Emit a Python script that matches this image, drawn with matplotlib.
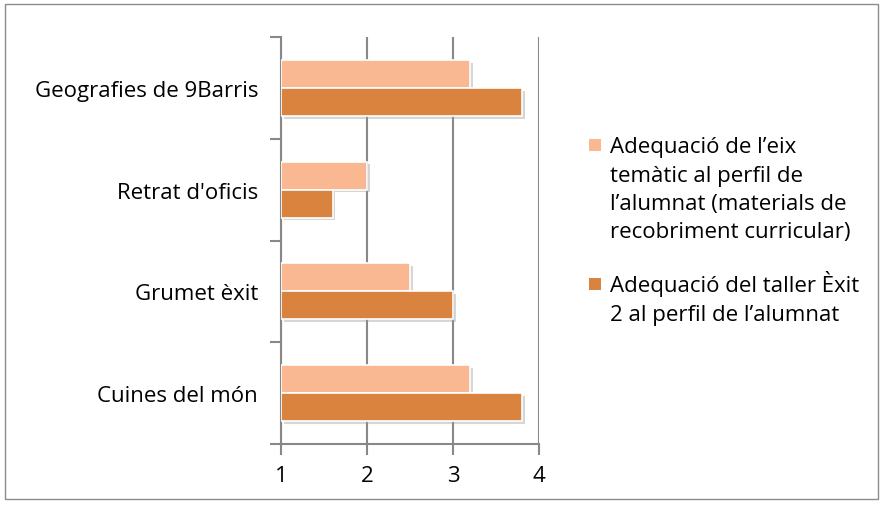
import matplotlib.pyplot as plt
import matplotlib.patheffects as pe
import numpy as np
from matplotlib.patches import Rectangle

plt.rcParams["font.family"] = ["Open Sans", "DejaVu Sans"]

categories = ["Geografies de 9Barris", "Retrat d'oficis", "Grumet èxit", "Cuines del món"]
eix_tematic = [3.2, 2.0, 2.5, 3.2]
taller_exit = [3.8, 1.6, 3.0, 3.8]
series_labels = [
    ["Adequació de l\u2019eix", "temàtic al perfil de", "l\u2019alumnat (materials de", "recobriment curricular)"],
    ["Adequació del taller Èxit", "2 al perfil de l\u2019alumnat"],
]
colors = ["#F9B792", "#DA833F"]
xticks = [1, 2, 3, 4]

W, H = 883, 506
fig = plt.figure(figsize=(W / 100, H / 100), dpi=100)
# marc exterior
fig.patches.append(Rectangle((0.006, 0.012), 0.988, 0.978, transform=fig.transFigure,
                             fill=False, edgecolor="#8c8c8c", linewidth=1.0))
ax = fig.add_axes([281 / W, 1 - 445 / H, 258 / W, 407 / H])

y = np.arange(len(categories))
h = 0.275
shadow = [pe.SimplePatchShadow(offset=(2, -2), shadow_rgbFace="#9a9a9a", alpha=0.4), pe.Normal()]
b1 = ax.barh(y - h / 2, [v - 1 for v in eix_tematic], h, left=1, color=colors[0],
             edgecolor="white", linewidth=1.2, zorder=3)
b2 = ax.barh(y + h / 2, [v - 1 for v in taller_exit], h, left=1, color=colors[1],
             edgecolor="white", linewidth=1.2, zorder=3)
for b in list(b1) + list(b2):
    b.set_path_effects(shadow)

ax.set_xlim(1, 4)
ax.set_ylim(len(categories) - 0.5, -0.5)
ax.set_xticks(xticks)
ax.set_xticklabels([str(t) for t in xticks], fontsize=16)
ax.set_yticks(y)
ax.set_yticklabels(categories, fontsize=16)
ax.set_yticks(np.arange(len(categories) + 1) - 0.5, minor=True)
ax.tick_params(axis="y", which="major", length=0, pad=16.5)
ax.tick_params(axis="y", which="minor", length=8, width=1.5, color="#888888")
ax.tick_params(axis="x", length=8, width=1.5, color="#888888", pad=7)

ax.grid(axis="x", color="#888888", linewidth=1.5, zorder=0)
for s in ["top", "right"]:
    ax.spines[s].set_visible(False)
for s in ["left", "bottom"]:
    ax.spines[s].set_color("#888888")
    ax.spines[s].set_linewidth(1.5)

# llegenda
baselines = [[153, 182, 210, 238], [292, 321]]
for lines, bl, c in zip(series_labels, baselines, colors):
    fig.patches.append(Rectangle((589 / W, 1 - (bl[0] - 1) / H), 12 / W, 12 / H,
                                 transform=fig.transFigure, facecolor=c, edgecolor="none"))
    for txt, b in zip(lines, bl):
        fig.text(610 / W, 1 - b / H, txt, fontsize=16, va="baseline", ha="left")

fig.savefig("out.png", dpi=100)
